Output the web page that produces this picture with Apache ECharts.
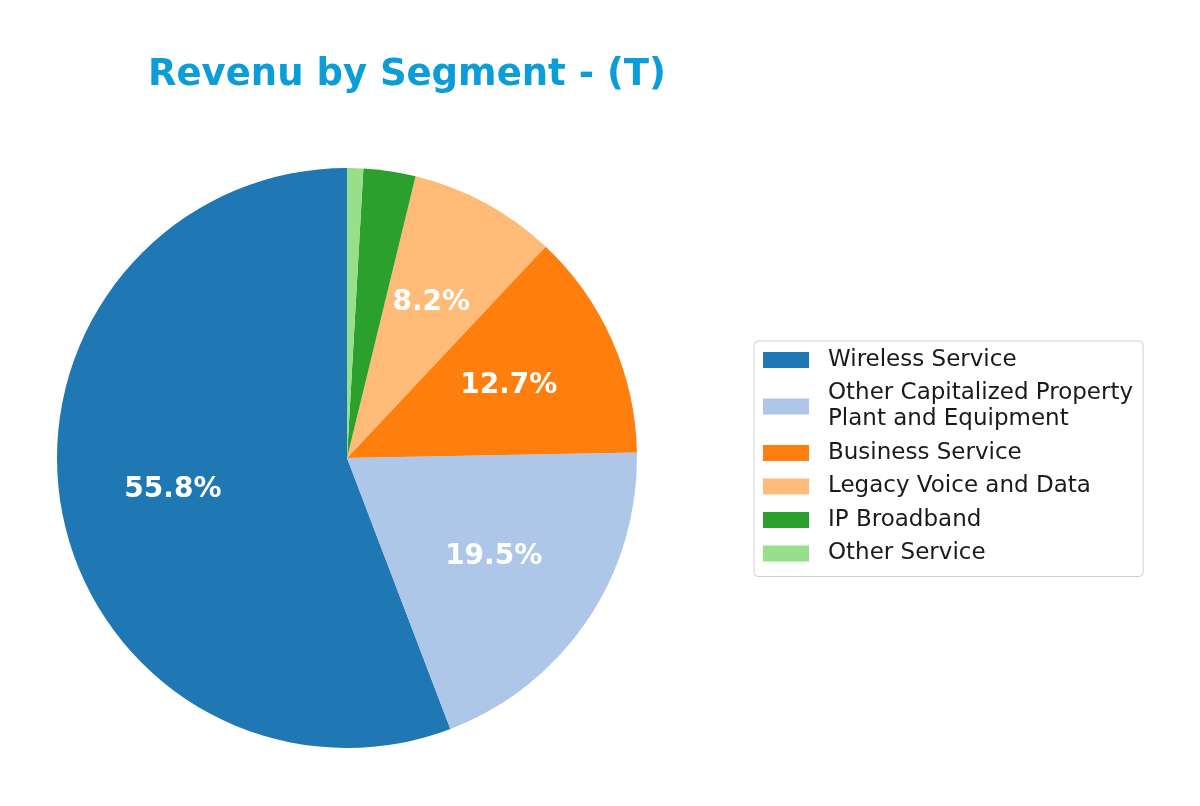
<!DOCTYPE html>
<html>
<head>
<meta charset="utf-8">
<script src="https://cdn.jsdelivr.net/npm/echarts@6/dist/echarts.min.js"></script>
<style>
    html, body {margin: 0; padding: 0; background: #fff;}
    #chart {width: 1200px; height: 806px;}
</style>
</head>
<body>
<div id="chart"></div>
<script>
    // segments, share of revenue in %
    var segments = ['Wireless Service', 'Other Capitalized Property\nPlant and Equipment',
        'Business Service', 'Legacy Voice and Data', 'IP Broadband', 'Other Service'];
    var shares = [55.8, 19.5, 12.7, 8.2, 2.9, 0.9];
    var colors = ['#1f77b4', '#aec7e8', '#ff7f0e', '#ffbb78', '#2ca02c', '#98df8a'];

    var pieData = segments.map(function (name, i) {
        return {name: name, value: shares[i], itemStyle: {color: colors[i]}};
    });
    // same slices, only used to place the % labels at 0.6 of the radius
    var labelData = segments.map(function (name, i) {
        return {name: name, value: shares[i]};
    });

    var chart = echarts.init(document.getElementById('chart'));
    chart.setOption({
        animation: false,
        title: {
            text: 'Revenu by Segment - (T)',
            left: 402, top: 52, textAlign: 'center',
            textStyle: {fontFamily: 'DejaVu Sans', fontSize: 37, fontWeight: 'bold', color: '#0a9dd8'}
        },
        legend: {
            orient: 'vertical',
            left: 754, top: 341,
            padding: [6, 10, 10, 9],
            borderColor: '#d0d0d0', borderWidth: 1, borderRadius: 4,
            icon: 'rect', itemWidth: 46, itemHeight: 16, itemGap: 7.5,
            data: segments,
            textStyle: {fontFamily: 'DejaVu Sans', fontSize: 23, lineHeight: 26, color: '#1a1a1a',
                padding: [0, 0, 0, 14]}
        },
        series: [{
            type: 'pie',
            center: [347, 458],
            radius: [0, 290],
            startAngle: 90,
            clockwise: false,
            label: {show: false},
            labelLine: {show: false},
            emphasis: {disabled: true},
            data: pieData
        }, {
            type: 'pie',
            center: [347, 458],
            radius: [58, 290],
            startAngle: 90,
            clockwise: false,
            silent: true,
            itemStyle: {color: 'rgba(0,0,0,0)'},
            labelLine: {show: false},
            label: {
                show: true, position: 'inside',
                fontFamily: 'DejaVu Sans', fontSize: 28, fontWeight: 'bold', color: '#fff',
                formatter: function (p) {
                    return p.percent < 5 ? '' : p.percent.toFixed(1) + '%';
                }
            },
            data: labelData
        }]
    });
</script>
</body>
</html>
